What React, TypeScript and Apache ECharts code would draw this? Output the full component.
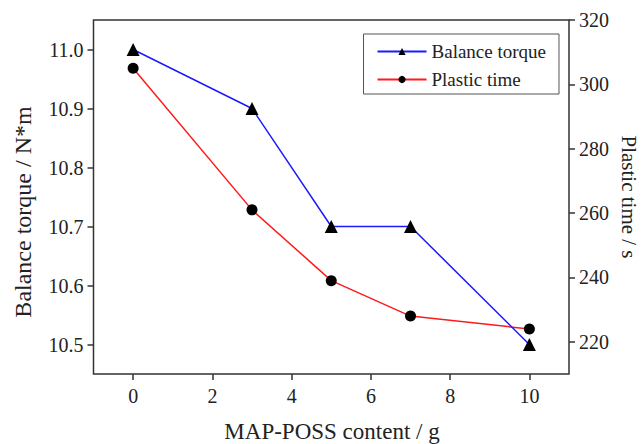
import React, { useEffect, useRef } from "react";
import * as echarts from "echarts";

const content = [0, 3, 5, 7, 10];
const balanceTorque = [11.0, 10.9, 10.7, 10.7, 10.5];
const plasticTime = [305, 261, 239, 228, 224];
const xTicks = [0, 2, 4, 6, 8, 10];
const leftTicks = [10.5, 10.6, 10.7, 10.8, 10.9, 11.0];
const rightTicks = [220, 240, 260, 280, 300, 320];

const FONT = "Liberation Serif";
const AX = "#333333";

export default function App() {
  const ref = useRef<HTMLDivElement>(null);
  useEffect(() => {
    if (!ref.current) return;
    const chart = echarts.init(ref.current, null, { renderer: "svg" });
    const mkLine = () => ({ show: false, onZero: false });
    const tick = (c: string) => ({ show: true, inside: false, length: 6, lineStyle: { color: c, width: 1.5 } });
    chart.setOption({
      animation: false,
      backgroundColor: "#fff",
      textStyle: { fontFamily: FONT },
      grid: {
        left: 93.5,
        right: 73,
        top: 20,
        bottom: 70,
        show: true,
        borderColor: AX,
        borderWidth: 1.5,
        backgroundColor: "transparent",
      },
      legend: {
        orient: "vertical",
        right: 83,
        top: 34,
        itemWidth: 49,
        itemHeight: 9,
        itemGap: 9,
        borderColor: "#555",
        borderWidth: 1,
        padding: [8, 13, 5, 13],
        textStyle: { fontFamily: FONT, fontSize: 19, color: "#222" },
        data: ["Balance torque", "Plastic time"],
      },
      xAxis: {
        type: "value",
        min: -1,
        max: 11,
        axisLine: mkLine(),
        splitLine: { show: false },
        axisTick: { ...tick(AX), customValues: xTicks },
        axisLabel: {
          customValues: xTicks,
          margin: 12,
          fontFamily: FONT,
          fontSize: 20,
          color: "#222",
        },
      },
      yAxis: [
        {
          type: "value",
          min: 10.45,
          max: 11.05,
          position: "left",
          axisLine: mkLine(),
          splitLine: { show: false },
          axisTick: { ...tick(AX), customValues: leftTicks },
          axisLabel: {
            customValues: leftTicks,
            margin: 10,
            fontFamily: FONT,
            fontSize: 20,
            color: "#222",
            formatter: (v: number) => v.toFixed(1),
          },
        },
        {
          type: "value",
          min: 210,
          max: 320,
          position: "right",
          axisLine: mkLine(),
          splitLine: { show: false },
          axisTick: { ...tick(AX), customValues: rightTicks },
          axisLabel: {
            customValues: rightTicks,
            margin: 10,
            fontFamily: FONT,
            fontSize: 20,
            color: "#222",
          },
        },
      ],
      graphic: [
        {
          type: "text",
          x: 23,
          y: 212,
          rotation: Math.PI / 2,
          style: {
            text: "Balance torque / N*m",
            fontFamily: FONT,
            fontSize: 24,
            fill: "#222",
            align: "center",
            verticalAlign: "middle",
          },
        },
        {
          type: "text",
          x: 629,
          y: 197,
          rotation: -Math.PI / 2,
          style: {
            text: "Plastic time / s",
            fontFamily: FONT,
            fontSize: 21,
            fill: "#222",
            align: "center",
            verticalAlign: "middle",
          },
        },
        {
          type: "text",
          x: 332,
          y: 431,
          style: {
            text: "MAP-POSS content / g",
            fontFamily: FONT,
            fontSize: 23,
            fill: "#222",
            align: "center",
            verticalAlign: "middle",
          },
        },
      ],
      series: [
        {
          name: "Balance torque",
          type: "line",
          yAxisIndex: 0,
          data: content.map((x, i) => [x, balanceTorque[i]]),
          symbol: "triangle",
          symbolSize: 13,
          lineStyle: { color: "#1a1aff", width: 1.5 },
          itemStyle: { color: "#000" },
          z: 3,
        },
        {
          name: "Plastic time",
          type: "line",
          yAxisIndex: 1,
          data: content.map((x, i) => [x, plasticTime[i]]),
          symbol: "circle",
          symbolSize: 11,
          lineStyle: { color: "#ff1a1a", width: 1.5 },
          itemStyle: { color: "#000" },
          z: 2,
        },
      ],
    });
    return () => chart.dispose();
  }, []);
  return <div ref={ref} style={{ width: 642, height: 444, position: "fixed", left: 0, top: 0 }} />;
}
